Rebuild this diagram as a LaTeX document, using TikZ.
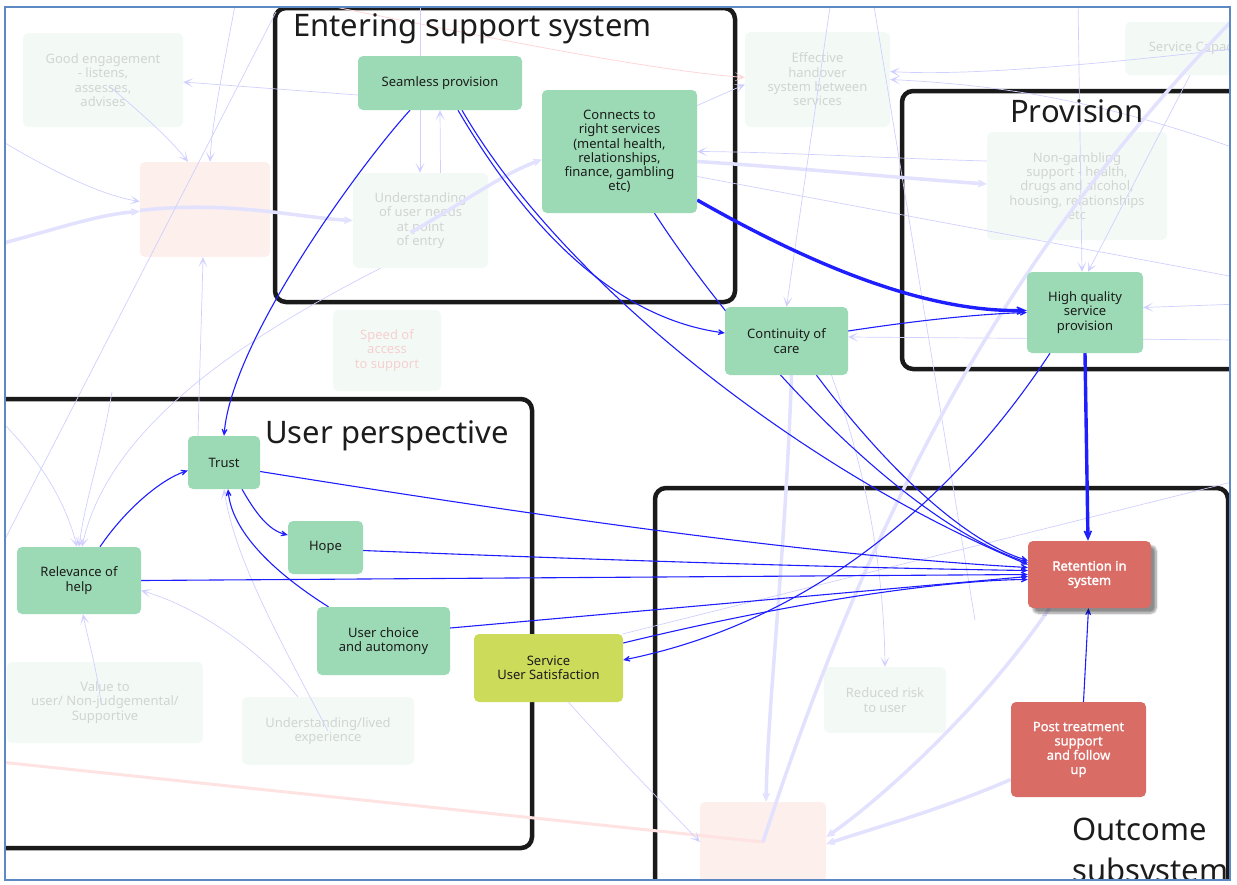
\documentclass[tikz,border=0pt]{standalone}
\usepackage{fontspec}
\setmainfont{Noto Sans}
\newfontfamily\heavysans{Noto Sans}[FakeBold=2]
\newfontfamily\midsans{Noto Sans}[FakeBold=0.8]
\usetikzlibrary{arrows.meta,shadows.blur}

\definecolor{nodegreen}{RGB}{155,218,181}
\definecolor{susgreen}{RGB}{204,219,90}
\definecolor{retred}{RGB}{218,108,102}
\definecolor{linkblue}{RGB}{30,30,255}
\definecolor{fadeblue}{RGB}{208,208,255}
\definecolor{fadewideblue}{RGB}{226,226,255}
\definecolor{ghostfill}{RGB}{243,250,246}
\definecolor{ghosttext}{RGB}{208,213,210}
\definecolor{pinkfill}{RGB}{252,239,236}
\definecolor{pinktext}{RGB}{246,208,208}
\definecolor{fadepink}{RGB}{255,214,214}
\definecolor{fadepinkwide}{RGB}{255,226,226}
\definecolor{frameblue}{RGB}{92,136,196}
\definecolor{groupblack}{RGB}{26,26,26}
\definecolor{textdark}{RGB}{28,28,28}

\pgfdeclarelayer{grp}
\pgfdeclarelayer{ghost}
\pgfdeclarelayer{faint}
\pgfdeclarelayer{links}
\pgfsetlayers{grp,ghost,faint,links,main}

\tikzset{
  grp/.style={draw=groupblack,line width=4.5pt,rounded corners=11pt,inner sep=0pt},
  grptitle/.style={font=\fontsize{31}{36}\selectfont,text=textdark,inner sep=0pt,anchor=base west},
  box/.style={rectangle,rounded corners=5pt,inner sep=0pt,align=center,
    font=\fontsize{13}{14.3}\selectfont,text=textdark},
  main/.style={box,fill=nodegreen},
  satisf/.style={box,fill=susgreen},
  outcome/.style={box,fill=retred,text=white},
  ghost/.style={box,fill=ghostfill,text=ghosttext},
  ghostpink/.style={box,fill=pinkfill},
  link/.style={draw=linkblue,line width=1.1pt,-{Stealth[length=11pt,width=10pt,inset=7pt]}},
  biglink/.style={draw=linkblue,line width=3.4pt,-{Stealth[length=17pt,width=15pt,inset=11pt]}},
  fade/.style={draw=fadeblue,line width=0.7pt,-{Stealth[length=10pt,width=9pt,inset=6pt]}},
  fadewide/.style={draw=fadewideblue,line width=3.5pt,-{Stealth[length=14pt,width=13pt,inset=9pt]}},
  fadered/.style={draw=fadepink,line width=0.8pt,-{Stealth[length=10pt,width=9pt,inset=6pt]}},
}
\newcommand{\frameclip}{\clip (5,7) rectangle (1230,880);}

\begin{document}
\begin{tikzpicture}[x=1pt,y=-1pt]
\useasboundingbox (0,0) rectangle (1237,884);

% active factors and container titles
\begin{scope}
\frameclip
\node[main,minimum width=164pt,minimum height=54pt] (seam) at (440,83) {Seamless provision};
\node[main,minimum width=155pt,minimum height=123pt] (conn) at (619.5,151.5) {Connects to\\right services\\(mental health,\\relationships,\\finance, gambling\\etc)};
\node[main,minimum width=123pt,minimum height=68pt] (cont) at (786.5,341) {Continuity of\\care};
\node[main,minimum width=116pt,minimum height=81pt] (hq) at (1085,312.5) {High quality\\service\\provision};
\node[main,minimum width=72pt,minimum height=53pt] (trust) at (224,462.5) {Trust};
\node[main,minimum width=75pt,minimum height=53pt] (hope) at (325.5,547.5) {Hope};
\node[main,minimum width=124pt,minimum height=67pt] (rel) at (79,580.5) {Relevance of\\help};
\node[main,minimum width=133pt,minimum height=68pt] (choice) at (383.5,641) {User choice\\and automony};
\node[satisf,minimum width=149pt,minimum height=68pt] (sus) at (548.5,668) {Service\\User Satisfaction};
\node[outcome,font=\fontsize{13}{14.3}\selectfont\heavysans,minimum width=123pt,minimum height=67pt,
  blur shadow={shadow xshift=5pt,shadow yshift=-5pt,shadow blur steps=8,shadow opacity=45}] (ret) at (1089.5,574.5) {Retention in\\system};
\node[outcome,font=\fontsize{13}{14.3}\selectfont\midsans,minimum width=135pt,minimum height=95pt] (post) at (1078.5,749.5) {Post treatment\\support\\and follow\\up};

\node[grptitle] (tEnter) at (293,36) {Entering support system};
\node[grptitle] (tProv) at (1010,122) {Provision};
\node[grptitle] (tUser) at (265,443) {User perspective};
\node[grptitle] (tOut1) at (1072,840) {Outcome};
\node[grptitle] (tOut2) at (1072,881) {subsystem};
\end{scope}

% group containers
\begin{pgfonlayer}{grp}
\begin{scope}
\frameclip
\node[grp,minimum width=460pt,minimum height=294pt] (gEnter) at (505,155) {};
\node[grp,minimum width=358pt,minimum height=278pt] (gProv) at (1081,230) {};
\node[grp,minimum width=552pt,minimum height=449pt] (gUser) at (256,623.5) {};
\node[grp,minimum width=573pt,minimum height=432pt] (gOut) at (941.5,704) {};
\end{scope}
\end{pgfonlayer}

% background factors
\begin{pgfonlayer}{ghost}
\begin{scope}
\frameclip
\node[ghost,minimum width=160pt,minimum height=94pt] (good) at (103,80) {Good engagement\\- listens,\\assesses,\\advises};
\node[ghostpink,minimum width=130pt,minimum height=95pt] (pinkA) at (205,209.5) {};
\node[ghost,minimum width=135pt,minimum height=95pt] (under) at (420.5,220.5) {Understanding\\of user needs\\at point\\of entry};
\node[ghost,minimum width=145pt,minimum height=95pt] (handover) at (817.5,79.5) {Effective\\handover\\system between\\services};
\node[ghost,minimum width=146pt,minimum height=53pt] (capa) at (1198,48.5) {Service Capacity};
\node[ghost,minimum width=180pt,minimum height=108pt] (nongamb) at (1077,186) {Non-gambling\\support - health,\\drugs and alcohol,\\housing, relationships\\etc};
\node[ghost,text=pinktext,minimum width=108pt,minimum height=81pt] (speed) at (387,350.5) {Speed of\\access\\to support};
\node[ghost,minimum width=196pt,minimum height=81pt] (value) at (105,702.5) {Value to\\user/ Non-judgemental/\\Supportive};
\node[ghost,minimum width=172pt,minimum height=68pt] (lived) at (328,731) {Understanding/lived\\experience};
\node[ghost,minimum width=122pt,minimum height=66pt] (risk) at (885,700) {Reduced risk\\to user};
\node[ghostpink,minimum width=126pt,minimum height=80pt] (pinkB) at (763,842) {};
\end{scope}
\end{pgfonlayer}

% background links
\begin{pgfonlayer}{faint}
\begin{scope}
\frameclip
\coordinate (w1) at (0,244);
\coordinate (w2) at (0,140);
\coordinate (w3) at (0,420);
\coordinate (w4) at (0,762);
\coordinate (w5) at (112,392);
\coordinate (n1) at (236,0);
\coordinate (n2) at (276,12);
\coordinate (n3) at (420,0);
\coordinate (n4) at (330,6);
\coordinate (n6) at (1078,0);
\coordinate (n8) at (831,0);
\coordinate (n9) at (873,0);
\coordinate (s2) at (975,620);
\coordinate (farL) at (-52,650);
\coordinate (e1) at (1240,304);
\coordinate (e2) at (1240,340);
\coordinate (e3) at (1240,48);
\coordinate (e4) at (1240,150);
\coordinate (e5) at (1240,278);
\coordinate (e6) at (1240,480);
\coordinate (ne1) at (1240,12);

\draw[draw=fadepinkwide,line width=3pt] (w4) -- (pinkB.center);
\draw[fadered] (n4) .. controls (500,40) and (650,70) .. ([yshift=2pt]handover.west);
\draw[fadewide] (w1) .. controls (60,228) and (100,214) .. ([yshift=-2pt]pinkA.west);
\draw[fadewide] ([yshift=-1pt]pinkA.west) .. controls (230,200) and (300,218) .. (under.west);
\draw[fadewide] ([xshift=-10pt,yshift=-12pt]under.center) .. controls (460,205) and (500,175) .. ([yshift=-8pt]conn.west);
\draw[fadewide] ([yshift=-10pt]conn.east) .. controls (800,168) and (900,178) .. ([yshift=2pt]nongamb.west);
\draw[fade] ([yshift=25pt]nongamb.west) .. controls (880,158) and (780,152) .. (conn.east);
\draw[fade] ([yshift=-12pt]seam.west) -- ([yshift=-2pt]good.east);
\draw[fade] ([xshift=7pt,yshift=-7pt]good.center) .. controls (150,120) and (175,145) .. ([xshift=-17pt]pinkA.north);
\draw[fade] (n1) .. controls (225,60) and (212,120) .. ([xshift=5pt]pinkA.north);
\draw[fade,-] (n2) -- (farL);
\draw[fade] ([xshift=-26pt]trust.north) .. controls (200,360) and (202,300) .. ([xshift=-2pt]pinkA.south);
\draw[fade] (w2) .. controls (50,170) and (100,195) .. ([yshift=8pt]pinkA.west);
\draw[fade] (n3) -- ([xshift=-0.5pt]under.north);
\draw[fade] ([xshift=20pt]under.north) -- (seam.south);
\draw[fade] ([xshift=-40pt]under.south) .. controls (260,330) and (110,420) .. ([xshift=3pt]rel.north);
\draw[fade] (w3) .. controls (40,460) and (65,500) .. ([xshift=-2pt]rel.north);
\draw[fade] (w5) .. controls (100,460) and (85,500) .. (rel.north);
\draw[fade] ([xshift=-30pt]lived.north) .. controls (250,640) and (190,605) .. ([yshift=-10pt]rel.east);
\draw[fade] ([xshift=-4pt]value.center) .. controls (95,660) and (88,640) .. ([xshift=4pt]rel.south);
\draw[fade] (lived.center) .. controls (280,640) and (235,560) .. (trust.south);
\draw[fade] ([yshift=46pt]conn.east) -- ([yshift=-5pt]handover.west);
\draw[fade,-] ([yshift=-25pt]conn.east) -- (e5);
\draw[fade] (e3) .. controls (1050,70) and (950,75) .. ([yshift=8pt]handover.east);
\draw[fade] (e4) .. controls (1100,100) and (1000,85) .. (handover.east);
\draw[fade] (n8) -- (cont.north);
\draw[fade,-] (n9) -- (s2);
\draw[fade] (n6) -- ([xshift=-3pt]hq.north);
\draw[fade] ([xshift=-8pt]capa.south) -- ([xshift=3pt]hq.north);
\draw[fade] (e1) -- ([yshift=5pt]hq.east);
\draw[fade] (e2) -- ([yshift=4pt]cont.east);
\draw[fadewide,-] (ne1) .. controls (1060,200) and (900,420) .. (pinkB.center);
\draw[fadewide] ([xshift=5pt]cont.south) .. controls (785,560) and (768,700) .. ([xshift=3pt]pinkB.north);
\draw[fadewide] ([xshift=-40pt]ret.south) .. controls (980,710) and (880,800) .. ([yshift=5pt]pinkB.east);
\draw[fadewide] ([yshift=-30pt]post.west) .. controls (940,810) and (880,826) .. ([yshift=-2pt]pinkB.east);
\draw[fade] ([xshift=20pt]sus.south) .. controls (620,760) and (660,800) .. (pinkB.west);
\draw[fade] ([xshift=45pt]cont.south) .. controls (870,480) and (884,580) .. (risk.north);
\draw[fade,-] (sus.north east) -- (e6);
\end{scope}
\end{pgfonlayer}

% links between the active factors
\begin{pgfonlayer}{links}
\begin{scope}
\frameclip
\draw[link] ([xshift=-30pt]seam.south) .. controls (360,165) and (232,340) .. (trust.north);
\draw[link] ([xshift=18pt]seam.south) .. controls (540,250) and (630,320) .. ([yshift=8pt]cont.west);
\draw[link] ([xshift=22pt]seam.south) .. controls (560,280) and (800,470) .. ([yshift=10pt]ret.west);
\draw[link] ([xshift=35pt]conn.south) .. controls (740,345) and (900,520) .. ([yshift=12pt]ret.west);
\draw[link] ([xshift=30pt]cont.south) .. controls (880,460) and (960,540) .. ([yshift=14pt]ret.west);
\draw[biglink] ([yshift=-48.5pt]conn.east) .. controls (820,270) and (930,312) .. ([yshift=2pt]hq.west);
\draw[link] ([yshift=10pt]cont.east) .. controls (920,320) and (980,314) .. (hq.west);
\draw[biglink] (hq.south) -- ([xshift=-1.5pt]ret.north);
\draw[link] ([xshift=5pt]post.north) -- ([xshift=-1pt]ret.south);
\draw[link] ([xshift=-35pt]hq.south) .. controls (960,490) and (820,620) .. ([yshift=8pt]sus.east);
\draw[link] ([yshift=25pt]sus.east) .. controls (800,600) and (950,580) .. ([yshift=-5pt]ret.west);
\draw[link] ([yshift=-9pt]trust.east) .. controls (500,510) and (800,555) .. ([yshift=7pt]ret.west);
\draw[link] ([yshift=-3pt]hope.east) .. controls (600,560) and (850,568) .. ([yshift=4pt]ret.west);
\draw[link] (rel.east) -- (ret.west);
\draw[link] ([yshift=13pt]choice.east) -- ([yshift=-2pt]ret.west);
\draw[link] ([xshift=21pt]rel.north) .. controls (125,510) and (160,480) .. ([yshift=-8pt]trust.west);
\draw[link] ([xshift=18pt]trust.south) .. controls (255,512) and (268,530) .. ([yshift=12.5pt]hope.west);
\draw[link] ([xshift=-55pt]choice.north) .. controls (270,570) and (232,530) .. ([xshift=4pt]trust.south);
\end{scope}
\end{pgfonlayer}

% screenshot frame
\draw[frameblue,line width=1.5pt] (5,7) rectangle (1230,880);
\end{tikzpicture}
\end{document}
